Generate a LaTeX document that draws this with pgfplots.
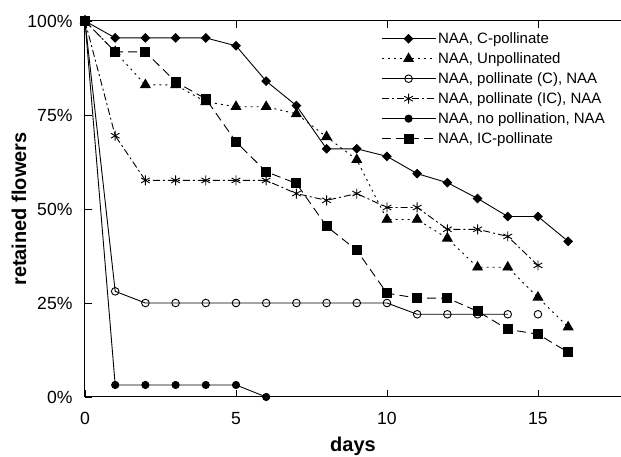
\documentclass[border=0pt]{standalone}
\usepackage{pgfplots}
\pgfplotsset{compat=1.18}
\usepackage{fontspec}
\setmainfont{Liberation Sans}
\begin{document}
\begin{tikzpicture}
\begin{axis}[
  scale only axis, width=536pt, height=376pt,
  xmin=0, xmax=17.75, ymin=0, ymax=100,
  axis x line*=box, axis y line*=left,
  xtick={0,5,10,15}, ytick={0,25,50,75,100},
  yticklabels={0\%,25\%,50\%,75\%,100\%},
  xticklabel pos=lower,
  tick align=inside, major tick length=7pt,
  tick style={black, line width=0.8pt},
  axis line style={line width=1pt},
  /pgf/number format/assume math mode=true,
  ticklabel style={font=\fontsize{17.6}{20}\selectfont},
  xticklabel style={yshift=-12pt},
  yticklabel style={xshift=-9pt},
  xlabel={days}, ylabel={retained flowers},
  label style={font=\bfseries\fontsize{20}{24}\selectfont},
  xlabel style={at={(axis description cs:0.5,0)}, anchor=center, yshift=-49pt},
  ylabel style={at={(axis description cs:0,0.5)}, anchor=center, yshift=66pt},
  clip=false,
  legend style={draw=none, fill=none, at={(axis cs:9.8,97.5)}, anchor=north west,
    font=\fontsize{15}{18}\selectfont, row sep=3.6pt, inner sep=0pt,
    /tikz/every even column/.append style={column sep=2pt}},
  legend cell align=left,
  legend image code/.code={\draw[#1, mark repeat=2, mark phase=2] plot coordinates {(0pt,0pt) (27pt,0pt) (54pt,0pt)};},
  every axis plot/.append style={black, line width=0.9pt},
]
% NAA, C-pollinate
\addplot[solid, mark=square*, mark size=3pt, mark options={rotate=45, solid}] coordinates {
(0,100) (1,95.5) (2,95.5) (3,95.5) (4,95.5) (5,93.4) (6,84) (7,77.5) (8,66) (9,66)
(10,64) (11,59.4) (12,57) (13,52.8) (14,48) (15,48) (16,41.4)};
\addlegendentry{NAA, C-pollinate}
% NAA, Unpollinated
\addplot[dash pattern=on 2pt off 4pt, mark=triangle*, mark size=5.5pt, mark options={solid}] coordinates {
(0,100) (1,91.8) (2,83) (3,83) (4,78.5) (5,77.2) (6,77.2) (7,75.3) (8,69.2) (9,63.1)
(10,47.2) (11,47.2) (12,42.2) (13,34.5) (14,34.5) (15,26.5) (16,18.6)};
\addlegendentry{NAA, Unpollinated}
% NAA, pollinate (C), NAA
\addplot[solid, mark=o, mark size=3.8pt, unbounded coords=jump] coordinates {
(0,100) (1,28.1) (2,25) (3,25) (4,25) (5,25) (6,25) (7,25) (8,25) (9,25) (10,25)
(11,22) (12,22) (13,22) (14,22) (14.5,nan) (15,22)};
\addlegendentry{NAA, pollinate (C), NAA}
% NAA, pollinate (IC), NAA
\addplot[dash pattern=on 7pt off 3pt on 2pt off 3pt, mark=asterisk, mark size=5pt, mark options={solid}] coordinates {
(0,100) (1,69.5) (2,57.6) (3,57.6) (4,57.6) (5,57.6) (6,57.6) (7,54.1) (8,52.3) (9,54.1)
(10,50.4) (11,50.4) (12,44.6) (13,44.6) (14,42.7) (15,35)};
\addlegendentry{NAA, pollinate (IC), NAA}
% NAA, no pollination, NAA
\addplot[solid, mark=*, mark size=3.6pt] coordinates {
(0,100) (1,3.2) (2,3.2) (3,3.2) (4,3.2) (5,3.2) (6,0)};
\addlegendentry{NAA, no pollination, NAA}
% NAA, IC-pollinate
\addplot[dash pattern=on 9pt off 5pt, mark=square*, mark size=4.5pt, mark options={solid}] coordinates {
(0,100) (1,91.8) (2,91.8) (3,83.8) (4,79.3) (5,67.9) (6,59.9) (7,56.8) (8,45.4) (9,39)
(10,27.6) (11,26.3) (12,26.3) (13,22.8) (14,18) (15,16.7) (16,11.9)};
\addlegendentry{NAA, IC-pollinate}
\end{axis}
\pgfresetboundingbox
\path[use as bounding box] ([xshift=-85pt,yshift=-60pt]current axis.south west) rectangle ([yshift=21pt]current axis.north east);
\end{tikzpicture}
\end{document}
